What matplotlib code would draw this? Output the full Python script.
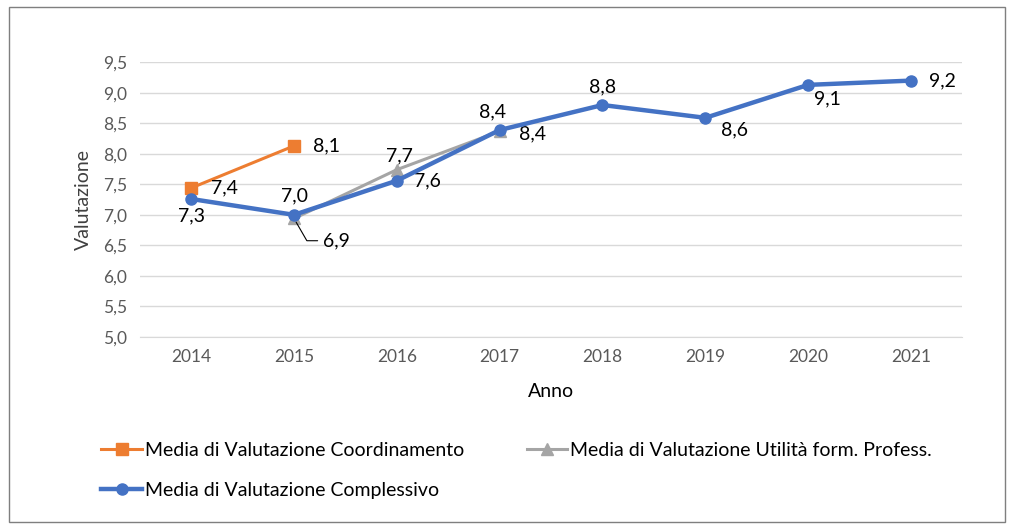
import matplotlib.pyplot as plt
from matplotlib.patches import Rectangle

plt.rcParams['font.family'] = ['Lato', 'DejaVu Sans']

anni = ['2014', '2015', '2016', '2017', '2018', '2019', '2020', '2021']
coordinamento = [7.44, 8.13]
utilita = [None, 6.94, 7.74, 8.37]
complessivo = [7.26, 7.0, 7.56, 8.39, 8.80, 8.59, 9.13, 9.20]

def fmt(v):
    return f'{v:.1f}'.replace('.', ',')

fig = plt.figure(figsize=(10.13, 5.28), dpi=100)
ax = fig.add_axes([0.138, 0.362, 0.812, 0.52])

x = list(range(len(anni)))
l1, = ax.plot(x[:2], coordinamento, color='#ED7D31', marker='s', markersize=8, lw=2.2,
              label='Media di Valutazione Coordinamento', zorder=3)
l2, = ax.plot(x[1:4], utilita[1:4], color='#A5A5A5', marker='^', markersize=8, lw=2.2,
              label='Media di Valutazione Utilità form. Profess.', zorder=3)
l3, = ax.plot(x, complessivo, color='#4472C4', marker='o', markersize=8, lw=3.2,
              label='Media di Valutazione Complessivo', zorder=4)

fs = 14
# etichette arancioni
for i, v in enumerate(coordinamento):
    ax.annotate(fmt(v), (x[i], v), xytext=(14, 0), textcoords='offset points',
                ha='left', va='center', fontsize=fs)
# etichette grigie
ax.annotate(fmt(utilita[1]), (x[1], utilita[1]), xytext=(21, -16), textcoords='offset points',
            ha='left', va='center', fontsize=fs,
            arrowprops=dict(arrowstyle='-', color='black', lw=0.8, shrinkA=2, shrinkB=3,
                            connectionstyle='angle,angleA=0,angleB=-60'))
ax.annotate(fmt(utilita[2]), (x[2], utilita[2]), xytext=(2, 10), textcoords='offset points',
            ha='center', va='center', fontsize=fs)
ax.annotate(fmt(utilita[3]), (x[3], utilita[3]), xytext=(14, -2), textcoords='offset points',
            ha='left', va='center', fontsize=fs)
# etichette blu
offs = [(0, -12, 'center'), (0, 14, 'center'), (12, 0, 'left'), (-5, 13, 'center'),
        (0, 13, 'center'), (11, -9, 'left'), (4, -10, 'left'), (13, 0, 'left')]
for i, v in enumerate(complessivo):
    dx, dy, ha = offs[i]
    ax.annotate(fmt(v), (x[i], v), xytext=(dx, dy), textcoords='offset points',
                ha=ha, va='center', fontsize=fs)

ax.set_xlim(-0.5, len(anni) - 0.5)
ax.set_ylim(5.0, 9.5)
ax.set_yticks([5.0 + 0.5 * k for k in range(10)])
ax.set_yticklabels([fmt(5.0 + 0.5 * k) for k in range(10)])
ax.set_xticks(x)
ax.set_xticklabels(anni)
ax.tick_params(length=0, labelsize=12.5, colors='#595959', pad=9)
ax.yaxis.grid(True, color='#D9D9D9', lw=1)
ax.set_axisbelow(True)
for s in ['top', 'right', 'left']:
    ax.spines[s].set_visible(False)
ax.spines['bottom'].set_color('#D9D9D9')
ax.set_xlabel('Anno', fontsize=14, labelpad=13)
ax.set_ylabel('Valutazione', fontsize=14, color='#404040', labelpad=8)

# ordine per colonne: arancione, blu | grigio
fig.legend([l1, l3, l2], [l1.get_label(), l3.get_label(), l2.get_label()],
           loc='upper left', bbox_to_anchor=(0.10, 0.163), ncol=2, frameon=False,
           fontsize=14, handlelength=2.1, handletextpad=0.15, columnspacing=3.2,
           labelspacing=1.2, borderaxespad=0, borderpad=0)

fig.patches.append(Rectangle((0.009, 0.012), 0.983, 0.975, transform=fig.transFigure,
                             fill=False, edgecolor='#7F7F7F', lw=1))

fig.savefig('out.png', dpi=100)
